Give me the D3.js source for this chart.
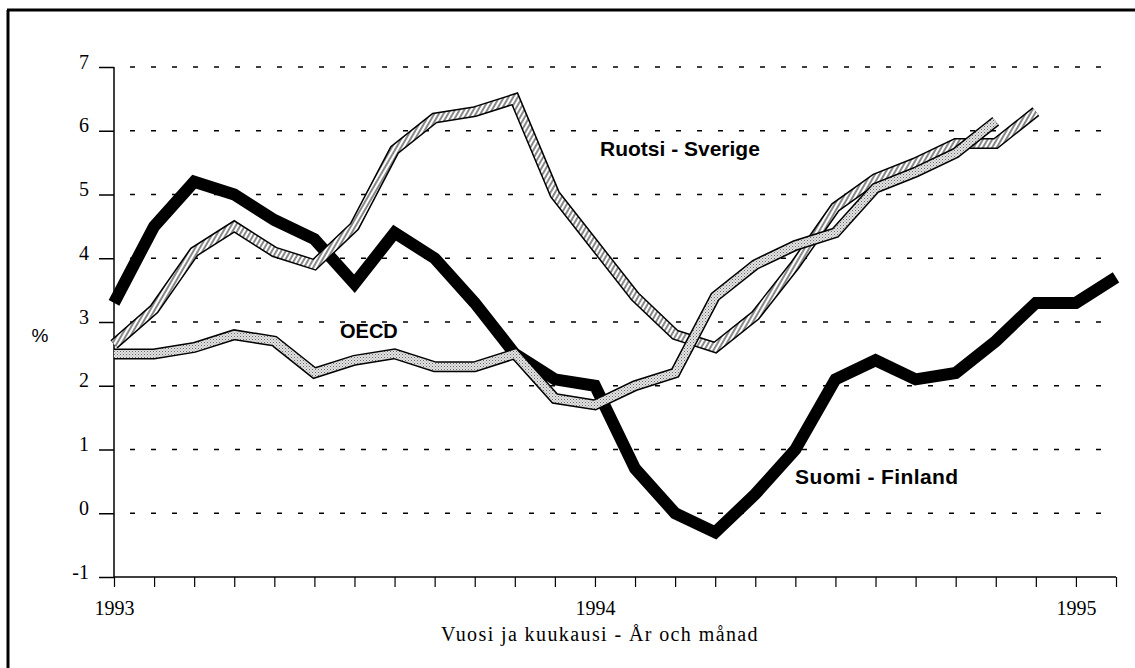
<html>
<head>
<meta charset="utf-8">
<script src="https://d3js.org/d3.v7.min.js"></script>
<style>
  body { margin: 0; background: #fff; }
  svg { display: block; }
</style>
</head>
<body>
<script>
// kuukaudet 1993-01 ... 1995-02
var months = ["1993-01","1993-02","1993-03","1993-04","1993-05","1993-06","1993-07","1993-08","1993-09","1993-10","1993-11","1993-12",
              "1994-01","1994-02","1994-03","1994-04","1994-05","1994-06","1994-07","1994-08","1994-09","1994-10","1994-11","1994-12",
              "1995-01","1995-02"];
var yTicks = [-1, 0, 1, 2, 3, 4, 5, 6, 7];

var finland = [3.3, 4.5, 5.2, 5.0, 4.6, 4.3, 3.6, 4.4, 4.0, 3.3, 2.5, 2.1, 2.0, 0.7, 0.0, -0.3, 0.3, 1.0, 2.1, 2.4, 2.1, 2.2, 2.7, 3.3, 3.3, 3.7];
var sweden  = [2.65, 3.2, 4.1, 4.5, 4.1, 3.9, 4.5, 5.7, 6.2, 6.3, 6.5, 5.0, 4.2, 3.4, 2.8, 2.6, 3.1, 3.9, 4.8, 5.25, 5.5, 5.8, 5.8, 6.3];
var oecd    = [2.5, 2.5, 2.6, 2.8, 2.7, 2.2, 2.4, 2.5, 2.3, 2.3, 2.5, 1.8, 1.7, 2.0, 2.2, 3.4, 3.9, 4.2, 4.4, 5.1, 5.35, 5.65, 6.15];

var W = 1135, H = 668;
var x0 = 114, x1 = 1116, yTop = 67, yBot = 577;

var svg = d3.select("body").append("svg").attr("width", W).attr("height", H);
var defs = svg.append("defs");

// vinoviivoitus (Ruotsi)
var hatch = defs.append("pattern").attr("id", "hatch").attr("patternUnits", "userSpaceOnUse")
  .attr("width", 4).attr("height", 4).attr("patternTransform", "rotate(30)");
hatch.append("rect").attr("width", 4).attr("height", 4).attr("fill", "#fff");
hatch.append("line").attr("x1", 1).attr("y1", 0).attr("x2", 1).attr("y2", 4).attr("stroke", "#111").attr("stroke-width", 1);

// pisteytys (OECD)
var dots = defs.append("pattern").attr("id", "dots").attr("patternUnits", "userSpaceOnUse")
  .attr("width", 3).attr("height", 3);
dots.append("rect").attr("width", 3).attr("height", 3).attr("fill", "#e4e4e4");
dots.append("rect").attr("x", 0).attr("y", 0).attr("width", 1).attr("height", 1).attr("fill", "#666");
dots.append("rect").attr("x", 1.5).attr("y", 1.5).attr("width", 1).attr("height", 1).attr("fill", "#888");

// kehys
svg.append("line").attr("x1", 8).attr("y1", 10).attr("x2", 8).attr("y2", H).attr("stroke", "#000").attr("stroke-width", 3);
svg.append("line").attr("x1", 7).attr("y1", 10).attr("x2", W).attr("y2", 10).attr("stroke", "#000").attr("stroke-width", 3);

var xScale = d3.scalePoint().domain(months).range([x0, x1]);
var yScale = d3.scaleLinear().domain([-1, 7]).range([yBot, yTop]);

// vaakaviivat
svg.append("g").selectAll("line").data(yTicks.filter(function(d){ return d > -1; })).enter().append("line")
  .attr("x1", x0 + 16).attr("x2", x1).attr("y1", function(d){ return yScale(d); }).attr("y2", function(d){ return yScale(d); })
  .attr("stroke", "#000").attr("stroke-width", 1.6).attr("stroke-dasharray", "5,16");

// y-akseli
var yAxis = d3.axisLeft(yScale).tickValues(yTicks).tickSize(15).tickPadding(10)
  .tickFormat(function(d){ return d < 0 ? "-" + Math.abs(d) : d; });
var gy = svg.append("g").attr("transform", "translate(" + x0 + ",0)").call(yAxis);
gy.select(".domain").attr("stroke-width", 1.5).attr("d", "M0," + yTop + "V" + yBot);
gy.selectAll(".tick line").attr("stroke-width", 1.5);
gy.selectAll("text").attr("font-family", "Liberation Serif, Times New Roman, serif").attr("font-size", 20)
  .attr("fill", "#000").attr("dy", "0.05em");

// x-akseli
var xAxis = d3.axisBottom(xScale).tickSize(10).tickPadding(14)
  .tickFormat(function(d){ return d.slice(5) === "01" ? d.slice(0, 4) : ""; });
var gx = svg.append("g").attr("transform", "translate(0," + yBot + ")").call(xAxis);
gx.select(".domain").attr("stroke-width", 1.5).attr("d", "M" + x0 + ",0H" + x1);
gx.selectAll(".tick line").attr("stroke-width", 1.2);
gx.selectAll("text").attr("font-family", "Liberation Serif, Times New Roman, serif").attr("font-size", 20).attr("fill", "#000");

// viivat
var line = function(vals) {
  return d3.line().x(function(d, i){ return xScale(months[i]); }).y(function(d){ return yScale(d); })(vals);
};

svg.append("path").attr("d", line(finland)).attr("fill", "none").attr("stroke", "#000")
  .attr("stroke-width", 12).attr("stroke-linejoin", "miter").attr("stroke-linecap", "butt");

svg.append("path").attr("d", line(sweden)).attr("fill", "none").attr("stroke", "#000")
  .attr("stroke-width", 11).attr("stroke-linejoin", "miter");
svg.append("path").attr("d", line(sweden)).attr("fill", "none").attr("stroke", "url(#hatch)")
  .attr("stroke-width", 8).attr("stroke-linejoin", "miter");

svg.append("path").attr("d", line(oecd)).attr("fill", "none").attr("stroke", "#000")
  .attr("stroke-width", 11).attr("stroke-linejoin", "miter");
svg.append("path").attr("d", line(oecd)).attr("fill", "none").attr("stroke", "url(#dots)")
  .attr("stroke-width", 8).attr("stroke-linejoin", "miter");

// tekstit
var sans = "Liberation Sans, Arial, Helvetica, sans-serif";
svg.append("text").attr("x", 600).attr("y", 156).text("Ruotsi - Sverige")
  .attr("font-family", sans).attr("font-weight", "bold").attr("font-size", 21);
svg.append("text").attr("x", 340).attr("y", 338).text("OECD")
  .attr("font-family", sans).attr("font-weight", "bold").attr("font-size", 20);
svg.append("text").attr("x", 795).attr("y", 484).text("Suomi - Finland")
  .attr("font-family", sans).attr("font-weight", "bold").attr("font-size", 21).attr("letter-spacing", 0.4);
svg.append("text").attr("x", 40).attr("y", 342).attr("text-anchor", "middle").text("%")
  .attr("font-family", sans).attr("font-size", 19);
svg.append("text").attr("x", 600).attr("y", 641).attr("text-anchor", "middle").text("Vuosi ja kuukausi - År och månad")
  .attr("font-family", "Liberation Serif, Times New Roman, serif").attr("font-size", 20).attr("letter-spacing", 1.4);
</script>
</body>
</html>
